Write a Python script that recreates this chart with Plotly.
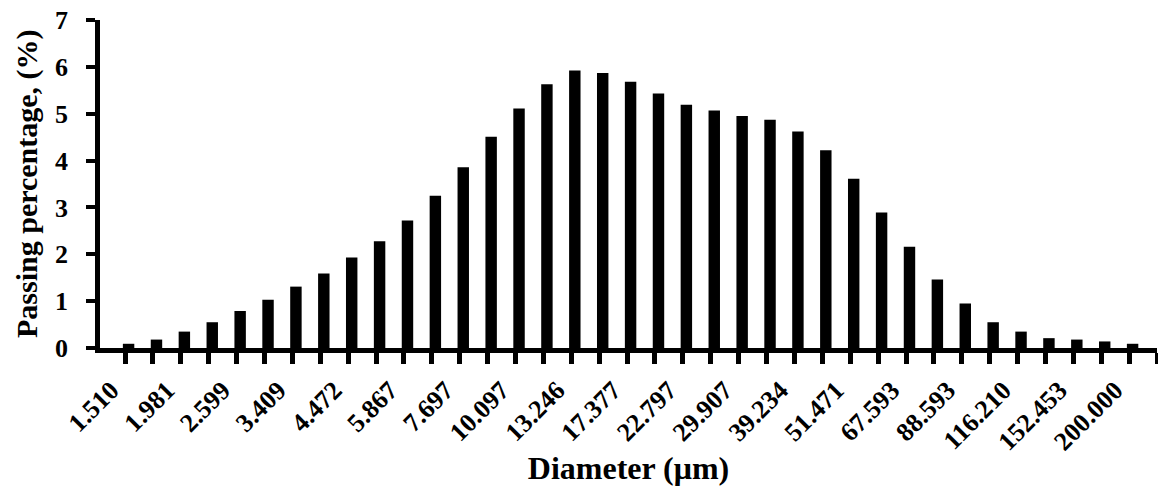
import plotly.graph_objects as go

# Tick labels (every other diameter class, µm)
tick_labels = ["1.510", "1.981", "2.599", "3.409", "4.472", "5.867", "7.697",
               "10.097", "13.246", "17.377", "22.797", "29.907", "39.234",
               "51.471", "67.593", "88.593", "116.210", "152.453", "200.000"]

# Passing percentage (%) for each size interval
passing = [0.09, 0.18, 0.35, 0.55, 0.79, 1.03, 1.31, 1.59, 1.93, 2.28,
           2.72, 3.25, 3.86, 4.51, 5.11, 5.63, 5.92, 5.87, 5.68, 5.43,
           5.19, 5.07, 4.95, 4.87, 4.62, 4.22, 3.61, 2.89, 2.16, 1.46,
           0.95, 0.55, 0.35, 0.21, 0.18, 0.14, 0.09]

n_cat = 2 * len(tick_labels)
bar_x = [k + 1 + 0.125 for k in range(len(passing))]
label_pos = [2 * k + 0.5 for k in range(len(tick_labels))]

FONT = "Liberation Serif"
W, H = 1158, 486
ML, MR, MT, MB = 100, 1, 20, 138

fig = go.Figure(go.Bar(
    x=bar_x, y=passing, width=0.41,
    marker=dict(color="black", line=dict(width=0)),
))

fig.update_layout(
    width=W, height=H,
    margin=dict(l=ML, r=MR, t=MT, b=MB),
    plot_bgcolor="white", paper_bgcolor="white",
    showlegend=False,
    font=dict(family=FONT, color="black", weight="bold"),
)

fig.update_xaxes(
    range=[0.1, n_cat], automargin=False,
    tickmode="array", tickvals=label_pos, ticktext=tick_labels,
    tickangle=-45, ticks="", ticklabelstandoff=12,
    tickfont=dict(family=FONT, size=26, color="black", weight="bold"),
    showline=True, linewidth=4.5, linecolor="black",
    showgrid=False, zeroline=False,
    minor=dict(tick0=0, dtick=1, ticks="outside", ticklen=11, tickwidth=5,
               tickcolor="black", showgrid=False),
    title=dict(text="Diameter (μm)", standoff=4,
               font=dict(family=FONT, size=32, color="black", weight="bold")),
)

fig.update_yaxes(
    range=[0, 7], dtick=1, tick0=0, automargin=False,
    ticks="outside", ticklen=9, tickwidth=4, tickcolor="black",
    ticklabelstandoff=13,
    tickfont=dict(family=FONT, size=26, color="black", weight="bold"),
    showline=True, linewidth=4.5, linecolor="black",
    showgrid=False, zeroline=False,
)

# y-axis title placed as a rotated annotation
plot_w = W - ML - MR
fig.add_annotation(
    text="Passing percentage, (%)", textangle=-90,
    xref="paper", yref="paper", x=(27 - ML) / plot_w, y=0.5,
    xanchor="center", yanchor="middle", showarrow=False,
    font=dict(family=FONT, size=30, color="black", weight="bold"),
)

fig.write_html(
    "out.html",
    config={"displayModeBar": False},
    post_script="document.body.style.margin='0';document.body.style.overflow='hidden';",
)
